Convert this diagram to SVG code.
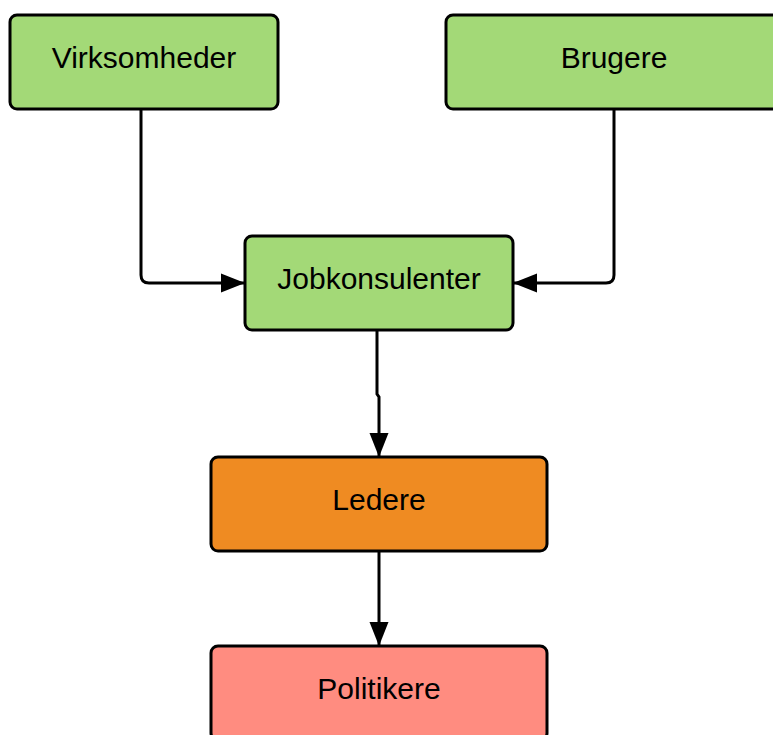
<svg xmlns="http://www.w3.org/2000/svg" width="773" height="735" viewBox="0 0 773 735">
<defs>
<marker id="arr" markerUnits="userSpaceOnUse" markerWidth="24" markerHeight="22" viewBox="0 0 24 22" refX="24" refY="11" orient="auto">
<path d="M0,1.5 L24,11 L0,20.5 Z" fill="#000"/>
</marker>
<style>
.box{stroke:#000;stroke-width:3;}
.lbl{font-family:"Liberation Sans",Arial,sans-serif;font-size:30px;fill:#000;text-anchor:middle;}
.con{fill:none;stroke:#000;stroke-width:3;}
</style>
</defs>
<g id="connectors">
<path class="con" d="M141,109 L141,275 Q141,283 149,283 L245,283" marker-end="url(#arr)"/>
<path class="con" d="M614,109 L614,275 Q614,283 606,283 L513,283" marker-end="url(#arr)"/>
<path class="con" d="M377,330 L377,394 L379,397 L379,457" marker-end="url(#arr)"/>
<path class="con" d="M379,551 L379,646" marker-end="url(#arr)"/>
</g>
<g id="virksomheder">
<rect class="box" x="10" y="15" width="268" height="94" rx="7" fill="#a3d977"/>
<text class="lbl" x="144" y="68">Virksomheder</text>
</g>
<g id="brugere">
<rect class="box" x="446" y="15" width="336" height="94" rx="7" fill="#a3d977"/>
<text class="lbl" x="614" y="68">Brugere</text>
</g>
<g id="jobkonsulenter">
<rect class="box" x="245" y="236" width="268" height="94" rx="7" fill="#a3d977"/>
<text class="lbl" x="379" y="289">Jobkonsulenter</text>
</g>
<g id="ledere">
<rect class="box" x="211" y="457" width="336" height="94" rx="7" fill="#ef8b22"/>
<text class="lbl" x="379" y="510">Ledere</text>
</g>
<g id="politikere">
<rect class="box" x="211" y="646" width="336" height="94" rx="7" fill="#ff8c80"/>
<text class="lbl" x="379" y="699">Politikere</text>
</g>
</svg>
